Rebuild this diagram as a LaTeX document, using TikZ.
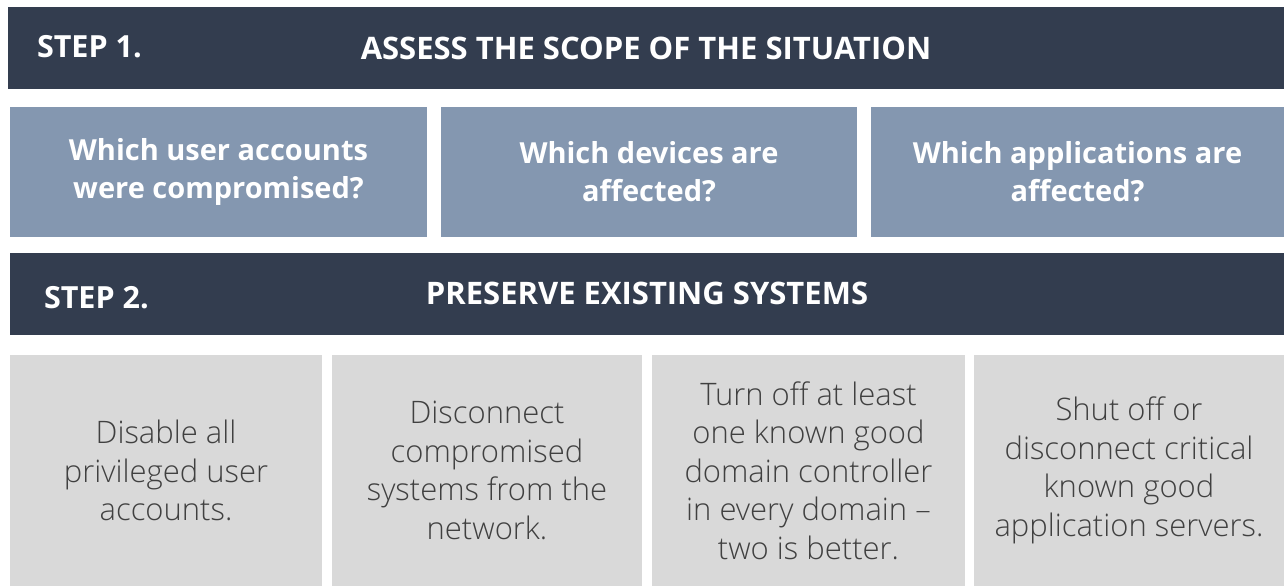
\documentclass[tikz,border=0pt]{standalone}
\usepackage{fontspec}
\setmainfont{Open Sans}
\newfontfamily\thinfont[Ligatures=TeX]{Open Sans Light}

\definecolor{barblue}{HTML}{333D4F}
\definecolor{askblue}{HTML}{8497B0}
\definecolor{actgray}{HTML}{D9D9D9}
\definecolor{acttext}{HTML}{404040}

\begin{document}
\begin{tikzpicture}[x=1pt, y=-1pt,
    every node/.style={inner sep=0pt, outer sep=0pt},
    stepbar/.style={fill=barblue, text=white, minimum height=82pt,
        font=\fontsize{31}{36}\selectfont\bfseries},
    stepno/.style={text=white, anchor=west, font=\fontsize{30.5}{36}\selectfont\bfseries},
    question/.style={fill=askblue, text=white, align=center, minimum height=130pt,
        font=\fontsize{29}{38}\selectfont\bfseries},
    action/.style={fill=actgray, text=acttext, align=center, minimum height=231pt,
        font=\fontsize{31}{38.5}\selectfont\thinfont}]
    \useasboundingbox (0,0) rectangle (1284,586);

    % step 1: scope
    \node[stepbar, minimum width=1276pt] (bar1) at (646,48) {ASSESS THE SCOPE OF THE SITUATION};
    \node[stepno] (no1) at (37,47) {STEP 1.};

    \node[question, minimum width=417pt] (q1) at (218.5,172) {Which user accounts\\were compromised?};
    \node[question, minimum width=416pt] (q2) at (649,172) {Which devices are\\affected?};
    \node[question, minimum width=413pt] (q3) at (1077.5,172) {Which applications are\\affected?};

    % step 2: preserve
    \node[stepbar, minimum width=1274pt] (bar2) at (647,293.5) {PRESERVE EXISTING SYSTEMS};
    \node[stepno] (no2) at (44,298) {STEP 2.};

    \node[action, minimum width=312pt] (a1) at (166,470.5) {Disable all\\privileged user\\accounts.};
    \node[action, minimum width=310pt] (a2) at (487,470.5) {Disconnect\\compromised\\systems from the\\network.};
    \node[action, minimum width=313pt] (a3) at (808.5,470.5) {Turn off at least\\one known good\\domain controller\\in every domain --\\two is better.};
    \node[action, minimum width=310pt] (a4) at (1129,470.5) {Shut off or\\disconnect critical\\known good\\application servers.};
\end{tikzpicture}
\end{document}
